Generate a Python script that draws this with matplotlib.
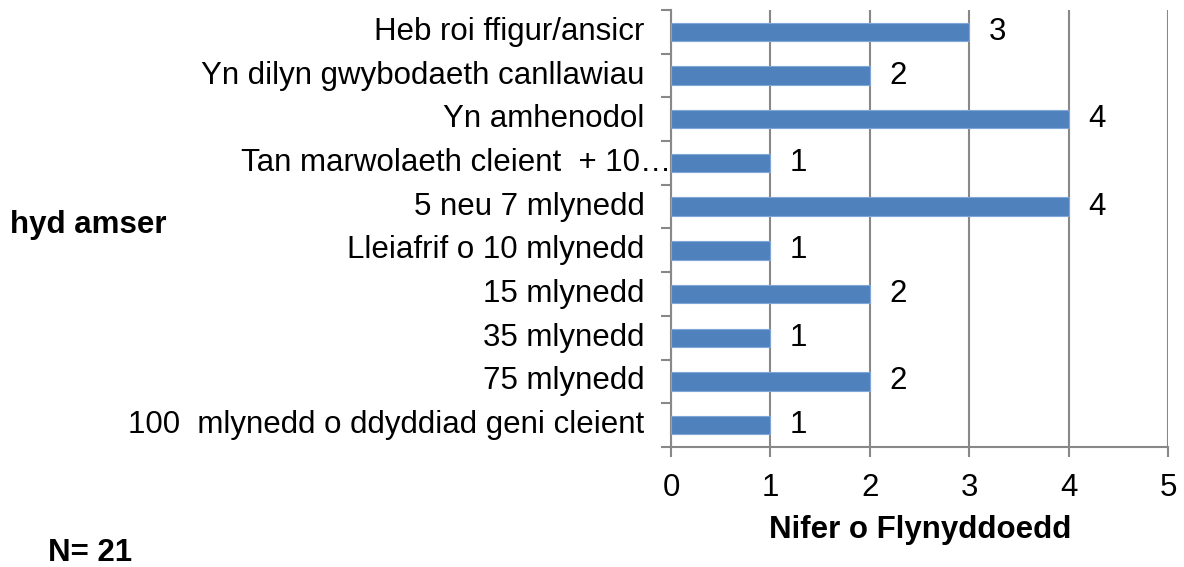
import matplotlib
matplotlib.use("Agg")
import matplotlib.pyplot as plt
import matplotlib.transforms as mtransforms
import numpy as np

plt.rcParams['font.family'] = ['Liberation Sans', 'DejaVu Sans']

categories = [
    "100  mlynedd o ddyddiad geni cleient",
    "75 mlynedd",
    "35 mlynedd",
    "15 mlynedd",
    "Lleiafrif o 10 mlynedd",
    "5 neu 7 mlynedd",
    "Tan marwolaeth cleient  + 10…",
    "Yn amhenodol",
    "Yn dilyn gwybodaeth canllawiau",
    "Heb roi ffigur/ansicr",
]
values = [1, 2, 1, 2, 1, 4, 1, 4, 2, 3]
xticks = [0, 1, 2, 3, 4, 5]

FS = 22.5
fig = plt.figure(figsize=(11.84, 5.67), dpi=100)
ax = fig.add_axes([671/1184, 1 - 447/567, (1168-671)/1184, (447-10)/567])

y = np.arange(len(categories))
ax.barh(y, values, height=0.42, color='#4F81BD', edgecolor='#7FA6D6', linewidth=0.8, zorder=3)
for yi, v in zip(y, values):
    ax.annotate(str(v), (v, yi), xytext=(14, 0), textcoords='offset points',
                ha='left', va='center', fontsize=FS, color='black')

ax.set_xlim(0, 5)
ax.set_ylim(-0.5, len(categories) - 0.5)
ax.set_xticks(xticks)
ax.set_xticklabels([str(t) for t in xticks], fontsize=FS)
ax.set_yticks(y)
ax.set_yticklabels([])
ax.tick_params(axis='y', length=0)
ax.set_yticks(np.arange(-0.5, len(categories), 1), minor=True)
ax.tick_params(axis='y', which='minor', length=7, width=1.5, color='#888888', direction='out')
ax.tick_params(axis='x', length=7, width=1.5, color='#888888', direction='out', pad=12)

trans = mtransforms.blended_transform_factory(ax.transAxes, ax.transData)
for yi, lab in zip(y, categories):
    off = 0 if lab.endswith('…') else -19
    ax.annotate(lab, (0, yi), xycoords=trans, xytext=(off, 0), textcoords='offset points',
                ha='right', va='center', fontsize=FS, color='black', annotation_clip=False)

ax.grid(axis='x', color='#888888', linewidth=1.5, zorder=0)
for s in ['top', 'right']:
    ax.spines[s].set_visible(False)
for s in ['left', 'bottom']:
    ax.spines[s].set_color('#888888')
    ax.spines[s].set_linewidth(1.5)

fig.text(920/1184, 1 - 530/567, "Nifer o Flynyddoedd", fontsize=FS, fontweight='bold', ha='center', va='center')
fig.text(10/1184, 1 - 225/567, "hyd amser", fontsize=FS, fontweight='bold', ha='left', va='center')
fig.text(48/1184, 1 - 553/567, "N= 21", fontsize=FS, fontweight='bold', ha='left', va='center')

fig.savefig("out.png", dpi=100)
